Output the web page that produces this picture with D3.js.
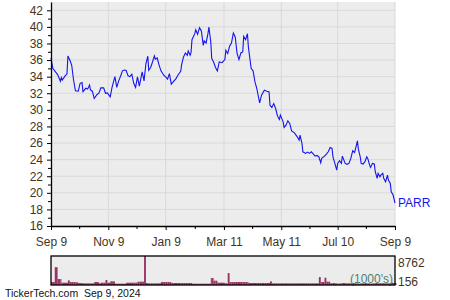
<!DOCTYPE html>
<html lang="en">

<head>
    <meta charset="UTF-8">
    <title>PARR</title>
    <script src="https://d3js.org/d3.v7.min.js"></script>
    <style>
        body { margin: 0; background: #fff; }
        text { font-family: "Liberation Sans", Arial, sans-serif; }
    </style>
</head>

<body>
    <div id="chart"></div>

    <script>
        // price data
        const dates = [
            "2023-09-09","2023-09-11","2023-09-13","2023-09-16","2023-09-19","2023-09-20","2023-09-21","2023-09-24","2023-09-26","2023-09-27",
            "2023-09-29","2023-10-01","2023-10-03","2023-10-05","2023-10-08","2023-10-10","2023-10-12","2023-10-13","2023-10-16","2023-10-18",
            "2023-10-20","2023-10-21","2023-10-23","2023-10-25","2023-10-28","2023-10-30","2023-11-01","2023-11-04","2023-11-06","2023-11-08",
            "2023-11-11","2023-11-13","2023-11-16","2023-11-18","2023-11-20","2023-11-22","2023-11-24","2023-11-26","2023-11-28","2023-11-30",
            "2023-12-02","2023-12-04","2023-12-06","2023-12-08","2023-12-10","2023-12-12","2023-12-15","2023-12-17","2023-12-19","2023-12-21",
            "2023-12-22","2023-12-24","2023-12-26","2023-12-28","2023-12-29","2023-12-31","2024-01-02","2024-01-04","2024-01-07","2024-01-09",
            "2024-01-11","2024-01-13","2024-01-15","2024-01-17","2024-01-20","2024-01-22","2024-01-25","2024-01-26","2024-01-28","2024-01-30",
            "2024-02-01","2024-02-02","2024-02-04","2024-02-05","2024-02-06","2024-02-09","2024-02-10","2024-02-12","2024-02-14","2024-02-16",
            "2024-02-18","2024-02-19","2024-02-21","2024-02-23","2024-02-24","2024-02-26","2024-02-27","2024-02-29","2024-03-02","2024-03-04",
            "2024-03-06","2024-03-09","2024-03-12","2024-03-13","2024-03-15","2024-03-17","2024-03-19","2024-03-21","2024-03-23","2024-03-25",
            "2024-03-27","2024-03-29","2024-03-31","2024-04-01","2024-04-03","2024-04-05","2024-04-06","2024-04-09","2024-04-11","2024-04-13",
            "2024-04-15","2024-04-16","2024-04-18","2024-04-20","2024-04-23","2024-04-25","2024-04-28","2024-04-29","2024-05-01","2024-05-03",
            "2024-05-05","2024-05-07","2024-05-09","2024-05-10","2024-05-13","2024-05-14","2024-05-16","2024-05-18","2024-05-20","2024-05-22",
            "2024-05-25","2024-05-28","2024-05-30","2024-05-31","2024-06-02","2024-06-03","2024-06-06","2024-06-08","2024-06-10","2024-06-12",
            "2024-06-14","2024-06-16","2024-06-18","2024-06-20","2024-06-22","2024-06-23","2024-06-26","2024-06-28","2024-06-30","2024-07-02",
            "2024-07-04","2024-07-05","2024-07-07","2024-07-09","2024-07-10","2024-07-12","2024-07-14","2024-07-15","2024-07-18","2024-07-20",
            "2024-07-22","2024-07-24","2024-07-26","2024-07-28","2024-07-30","2024-07-31","2024-08-01","2024-08-03","2024-08-04","2024-08-06",
            "2024-08-08","2024-08-10","2024-08-11","2024-08-13","2024-08-14","2024-08-16","2024-08-18","2024-08-19","2024-08-21","2024-08-22",
            "2024-08-24","2024-08-25","2024-08-27","2024-08-28","2024-08-30","2024-09-01","2024-09-02","2024-09-04","2024-09-05","2024-09-07",
            "2024-09-09"
        ];
        const prices = [
            36.25,34.98,34.7,34.25,33.45,33.9,33.6,34.1,34.35,36.5,
            36.0,35.4,33.6,32.3,32.25,33.2,33.3,32.2,32.6,32.5,
            33.0,32.4,32.25,31.37,31.85,32.0,32.65,32.65,32.0,32.05,
            31.56,32.75,34.0,32.7,33.5,34.05,34.7,34.8,34.75,34.1,
            34.0,34.3,33.2,32.7,33.97,32.85,34.57,33.49,35.58,36.46,
            34.77,35.1,35.77,36.5,36.1,36.25,35.4,34.7,34.17,33.97,
            33.7,34.37,33.1,33.37,33.77,34.17,34.65,35.46,36.38,36.86,
            36.58,37.1,36.58,36.9,38.46,39.18,39.66,39.1,39.9,39.5,
            37.78,38.3,38.06,39.18,39.98,38.18,36.18,35.77,35.1,34.7,
            35.77,35.68,36.06,37.18,36.78,37.66,38.06,39.26,38.78,36.78,
            36.06,36.86,36.98,38.86,38.46,39.18,37.58,34.98,34.7,33.37,
            32.57,31.97,30.84,31.77,32.37,32.28,32.16,30.56,30.28,30.76,
            30.16,29.24,28.84,29.36,28.55,27.88,28.15,28.67,28.36,27.47,
            27.23,26.75,26.35,26.95,25.95,24.94,24.75,24.9,24.75,24.94,
            24.7,24.42,24.5,24.34,23.62,24.15,24.42,24.66,24.94,25.47,
            25.35,24.34,23.55,22.74,23.55,23.86,23.55,24.42,23.55,23.43,
            23.55,24.15,25.06,24.86,25.75,26.27,25.3,24.34,23.55,23.47,
            23.75,24.34,24.15,23.34,23.06,23.55,23.47,22.54,21.74,22.34,
            21.93,22.14,22.34,21.74,21.33,22.14,21.54,21.14,20.13,19.73,
            18.75
        ];
        // volume in 1000's, same dates
        const volumes = [
            900,900,5400,1800,1800,700,700,700,700,1400,
            900,900,900,800,600,600,500,500,500,500,
            500,500,500,900,900,500,700,700,1500,700,
            1100,1100,400,400,400,400,400,400,700,700,
            700,700,700,700,1000,1000,1000,8762,600,500,
            500,500,500,500,500,500,500,900,900,900,
            900,900,600,600,600,600,600,600,600,600,
            600,600,600,600,400,400,400,400,400,400,
            400,400,400,400,400,2100,2100,1300,1300,700,
            700,700,500,500,3600,900,900,900,900,900,
            900,900,900,900,900,900,600,600,600,600,
            600,600,600,600,600,600,600,1100,500,500,
            500,500,500,500,500,500,500,500,500,500,
            500,500,500,500,500,500,500,500,500,500,
            500,500,500,2400,900,900,2200,1000,1000,500,
            500,600,500,500,400,500,500,600,500,500,
            500,500,600,500,500,500,400,500,500,500,
            600,500,500,500,400,500,500,600,500,500,
            500,500,600,500,500,500,500,600,700,600,
            600
        ];

        const xTickDates = ["2023-09-09", "2023-11-09", "2024-01-09", "2024-03-11", "2024-05-11", "2024-07-10", "2024-09-09"];
        const xTickLabels = ["Sep 9", "Nov 9", "Jan 9", "Mar 11", "May 11", "Jul 10", "Sep 9"];
        const xMinorDates = ["2023-10-09", "2023-12-09", "2024-02-09", "2024-04-10", "2024-06-10", "2024-08-09"];
        const yTicks = [16, 18, 20, 22, 24, 26, 28, 30, 32, 34, 36, 38, 40, 42];
        const yMinor = [17, 19, 21, 23, 25, 27, 29, 31, 33, 35, 37, 39, 41];
        const volMax = 8762;
        const volMin = 156;
        const symbol = "PARR";
        const footer = "TickerTech.com  Sep 9, 2024";

        const parse = d3.timeParse("%Y-%m-%d");
        const data = dates.map((d, i) => ({ date: parse(d), value: prices[i], vol: volumes[i] }));

        const W = 450, H = 300;
        const plot = { left: 51, right: 395, top: 2, bottom: 226 };
        const volBox = { top: 256, bottom: 285 };
        const labelColor = "#45341a";

        const svg = d3.select("#chart").append("svg")
            .attr("width", W)
            .attr("height", H);

        const x = d3.scaleTime()
            .domain([parse(xTickDates[0]), parse(xTickDates[xTickDates.length - 1])])
            .range([plot.left, plot.right]);

        const y = d3.scaleLinear()
            .domain([16, 43])
            .range([plot.bottom, plot.top]);

        // plot background
        svg.append("rect")
            .attr("x", plot.left).attr("y", plot.top)
            .attr("width", plot.right - plot.left).attr("height", plot.bottom - plot.top)
            .attr("fill", "#ececec");

        // grid
        svg.append("g").selectAll("line").data(yTicks.slice(1))
            .join("line")
            .attr("x1", plot.left).attr("x2", plot.right)
            .attr("y1", d => y(d)).attr("y2", d => y(d))
            .attr("stroke", "#d9d9d9");
        svg.append("g").selectAll("line").data(xTickDates.slice(1))
            .join("line")
            .attr("x1", d => x(parse(d))).attr("x2", d => x(parse(d)))
            .attr("y1", plot.top).attr("y2", plot.bottom)
            .attr("stroke", "#d9d9d9");

        // price line
        svg.append("path")
            .datum(data)
            .attr("fill", "none")
            .attr("stroke", "#1414f0")
            .attr("stroke-width", 1.1)
            .attr("d", d3.line().x(d => x(d.date)).y(d => y(d.value)));

        const last = data[data.length - 1];
        svg.append("text")
            .attr("x", x(last.date) + 3)
            .attr("y", y(last.value))
            .attr("dy", "0.35em")
            .attr("font-size", 12)
            .attr("fill", "#1414f0")
            .text(symbol);

        // axes
        const yAxis = svg.append("g")
            .attr("transform", `translate(${plot.left},0)`)
            .call(d3.axisLeft(y).tickValues(yTicks).tickSize(4).tickSizeOuter(0).tickPadding(4));
        svg.append("g")
            .attr("transform", `translate(${plot.left},0)`)
            .call(d3.axisLeft(y).tickValues(yMinor).tickSize(3).tickSizeOuter(0).tickFormat(""))
            .select(".domain").remove();

        const xAxis = svg.append("g")
            .attr("transform", `translate(0,${plot.bottom})`)
            .call(d3.axisBottom(x).tickValues(xTickDates.map(parse))
                .tickFormat((d, i) => xTickLabels[i]).tickSize(4).tickSizeOuter(0).tickPadding(7));
        svg.append("g")
            .attr("transform", `translate(0,${plot.bottom})`)
            .call(d3.axisBottom(x).tickValues(xMinorDates.map(parse)).tickSize(3).tickSizeOuter(0).tickFormat(""))
            .select(".domain").remove();

        [yAxis, xAxis].forEach(g => {
            g.attr("font-family", null).attr("font-size", null);
            g.selectAll("text").attr("font-size", 12).attr("fill", labelColor);
        });
        svg.selectAll(".domain").attr("stroke", "#000").attr("stroke-width", 1.3);

        // volume panel
        const yv = d3.scaleLinear().domain([0, volMax]).range([volBox.bottom, volBox.top]);

        svg.append("rect")
            .attr("x", plot.left).attr("y", volBox.top)
            .attr("width", plot.right - plot.left).attr("height", volBox.bottom - volBox.top)
            .attr("fill", "#ececec");

        svg.append("g").selectAll("rect").data(data)
            .join("rect")
            .attr("x", d => x(d.date))
            .attr("y", d => yv(d.vol))
            .attr("width", (d, i) => i < data.length - 1 ? Math.max(1, x(data[i + 1].date) - x(d.date)) : 1.5)
            .attr("height", d => volBox.bottom - yv(d.vol))
            .attr("fill", "#993366");

        svg.append("text")
            .attr("x", plot.right - 2).attr("y", volBox.bottom - 2)
            .attr("text-anchor", "end")
            .attr("font-size", 12)
            .attr("fill", "#4f8270")
            .text("(1000's)");

        svg.append("rect")
            .attr("x", plot.left).attr("y", volBox.top)
            .attr("width", plot.right - plot.left).attr("height", volBox.bottom - volBox.top)
            .attr("fill", "none")
            .attr("stroke", "#000")
            .attr("stroke-width", 1.3);

        svg.append("text")
            .attr("x", plot.right + 3).attr("y", volBox.top + 7)
            .attr("dy", "0.35em")
            .attr("font-size", 12).attr("fill", labelColor)
            .text(volMax);
        svg.append("text")
            .attr("x", plot.right + 3).attr("y", volBox.bottom - 3)
            .attr("dy", "0.35em")
            .attr("font-size", 12).attr("fill", labelColor)
            .text(volMin);

        svg.append("text")
            .attr("x", 5).attr("y", 297)
            .attr("font-size", 10.5)
            .attr("fill", "#111")
            .attr("xml:space", "preserve")
            .style("white-space", "pre")
            .text(footer);
    </script>
</body>

</html>
